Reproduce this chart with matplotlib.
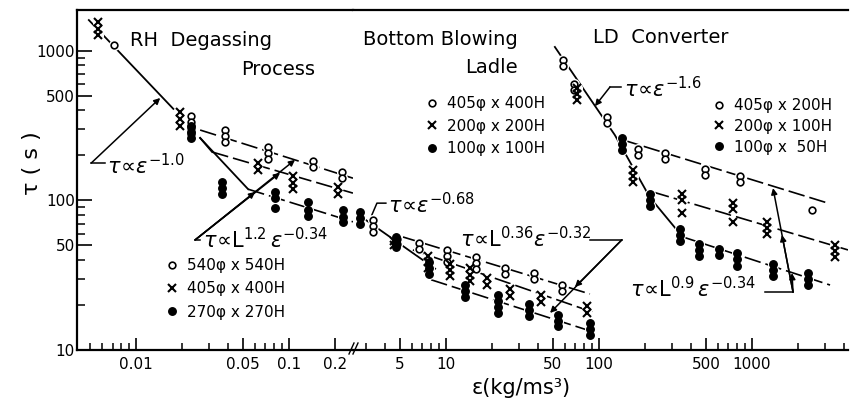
import numpy as np
import matplotlib.pyplot as plt
from matplotlib.lines import Line2D
from matplotlib.ticker import FixedLocator, FixedFormatter, NullFormatter

plt.rcParams['font.family'] = ['DejaVu Sans']
plt.rcParams['mathtext.fontset'] = 'dejavusans'

# RH degassing process  (eps in kg/ms3, tau in s)
rh_o_eps = [0.0072, 0.023, 0.038, 0.073, 0.143, 0.222]
rh_o_tau = [[1100], [367, 335, 305, 279], [296, 270, 246], [228, 208, 190], [184, 167], [155, 141]]
rh_x_eps = [0.0056, 0.0194, 0.0626, 0.106, 0.209]
rh_x_tau = [[1570, 1410, 1270], [390, 350, 315], [178, 160], [146, 131, 119], [123, 110]]
rh_d_eps = [0.023, 0.0365, 0.081, 0.133, 0.225]
rh_d_tau = [[315, 286, 261], [133, 121, 110], [114, 104, 89], [97, 87, 79], [86, 78, 72]]
rh_labels = ['540φ x 540H', '405φ x 400H', '270φ x 270H']

# bottom blowing ladle
bl_o_eps = [3.33, 4.8, 6.67, 10.15, 15.7, 24.3, 37.6, 57.3]
bl_o_tau = [[74, 67.5, 61.5], [55, 51], [52, 47.5], [46.7, 42.6, 38.8], [41.9, 38.2, 34.8],
            [35.3, 32.2], [32.8, 29.8], [27.3, 24.9]]
bl_x_eps = [4.6, 7.6, 10.6, 14.4, 18.5, 26.2, 41.8, 83.5]
bl_x_tau = [[54, 50], [42.6, 38.8, 35.3], [37.6, 34.3, 31.2], [35.3, 31.8, 28.9], [30.3, 27.3],
            [25.6, 23.0], [23.3, 21.0], [19.7, 17.7]]
bl_d_eps = [2.74, 4.7, 7.8, 13.3, 21.9, 34.8, 54, 87.3]
bl_d_tau = [[84, 76, 70], [57, 53, 49], [39, 35.5, 32], [27.3, 24.9, 22.6], [23.3, 21.2, 19.4, 17.7],
            [20.3, 18.5, 16.9], [17.2, 15.6, 14.5], [15.2, 13.8, 12.6]]
bl_labels = ['405φ x 400H', '200φ x 200H', '100φ x 100H']

# LD converter
ld_o_eps = [58.2, 69, 113, 180, 270, 493, 836, 2466]
ld_o_tau = [[870, 795], [600, 550], [363, 330], [221, 202], [208, 190], [162, 148], [145, 133], [86]]
ld_x_eps = [72, 167, 348, 752, 1253, 3484]
ld_x_tau = [[567, 516, 470], [160, 146, 133], [110, 101, 82], [96, 88, 72], [72, 65.5, 59.6],
            [50.4, 45.9, 41.9]]
ld_d_eps = [141, 215, 338, 450, 609, 798, 1372, 2322]
ld_d_tau = [[262, 239, 218], [110, 101, 92], [64.4, 58.6, 53.4], [51, 46.5, 42.6], [47.5, 43.2],
            [44.6, 40.6, 36.5], [37.6, 34.3, 31.2], [32.8, 29.8, 27.3]]
ld_labels = ['405φ x 200H', '200φ x 100H', '100φ x  50H']

# fitted lines (eps, tau); steep parts solid, flat parts dashed
rh_steep = ([0.0049, 0.0175], [1610, 410])
rh_bend_x = ([0.0262, 0.0314], [262, 211])
rh_bend_d = ([0.0262, 0.054], [262, 119])
rh_fit_o = ([0.0262, 0.262], [296, 141])
rh_fit_x = ([0.0314, 0.262], [211, 112])
rh_fit_d = ([0.054, 0.262], [119, 72])
bl_steep = ([2.6, 8.5], [82, 35])
bl_fit_o = ([5.24, 87.3], [57, 23.7])
bl_fit_x = ([6.08, 91.4], [46.7, 17.9])
bl_fit_d = ([8.0, 92], [29.5, 13.2])
ld_steep = ([51.5, 127, 215, 338], [1064, 274, 105, 60])
ld_fit_o = ([143.5, 3140], [254, 96])
ld_fit_x = ([225, 4240], [114, 46.7])
ld_fit_d = ([354, 3236], [57, 27.2])


def expand(eps, tau):
    xs = [e for e, ts in zip(eps, tau) for _ in ts]
    ys = [t for ts in tau for t in ts]
    return xs, ys


W, H = 852, 399
fig = plt.figure(figsize=(W / 100, H / 100), dpi=100)


def box(x0, x1):
    return [x0 / W, 1 - 350 / H, (x1 - x0) / W, 340 / H]


ax1 = fig.add_axes(box(77, 353))
ax2 = fig.add_axes(box(353, 848))

for ax in (ax1, ax2):
    ax.set_xscale('log')
    ax.set_yscale('log')
    ax.set_ylim(10, 1880)
    for s in ax.spines.values():
        s.set_linewidth(1.6)
    ax.spines['right'].set_visible(False)
    ax.tick_params(axis='x', which='major', direction='in', length=9, width=1.2,
                   labelsize=11, pad=5, top=False)
    ax.tick_params(axis='x', which='minor', direction='in', length=5, width=1.1, top=False)
    ax.xaxis.set_minor_formatter(NullFormatter())
    ax.yaxis.set_minor_formatter(NullFormatter())

ax2.spines['left'].set_visible(False)
ax1.set_xlim(0.0041, 0.262)
ax2.set_xlim(2.47, 4240)

ax1.xaxis.set_major_locator(FixedLocator([0.01, 0.05, 0.1, 0.2]))
ax1.xaxis.set_major_formatter(FixedFormatter(['0.01', '0.05', '0.1', '0.2']))
ax1.xaxis.set_minor_locator(FixedLocator([0.005, 0.006, 0.007, 0.008, 0.009, 0.02, 0.03,
                                          0.04, 0.06, 0.07, 0.08, 0.09]))
ax2.xaxis.set_major_locator(FixedLocator([5, 10, 50, 100, 500, 1000]))
ax2.xaxis.set_major_formatter(FixedFormatter(['5', '10', '50', '100', '500', '1000']))
ax2.xaxis.set_minor_locator(FixedLocator([3, 4, 6, 7, 8, 9, 20, 30, 40, 60, 70, 80, 90,
                                          200, 300, 400, 600, 700, 800, 900, 2000, 3000, 4000]))

ax1.yaxis.set_major_locator(FixedLocator([10, 50, 100, 500, 1000]))
ax1.yaxis.set_major_formatter(FixedFormatter(['10', '50', '100', '500', '1000']))
ax1.yaxis.set_minor_locator(FixedLocator([20, 30, 40, 60, 70, 80, 90, 200, 300, 400,
                                          600, 700, 800, 900]))
ax1.tick_params(axis='y', which='major', direction='in', length=11, width=1.2,
                labelsize=11, pad=1.5, right=False)
ax1.tick_params(axis='y', which='minor', direction='in', length=6, width=1.1, right=False)
ax2.tick_params(axis='y', which='both', left=False, right=False, labelleft=False)
ax2.yaxis.set_major_locator(FixedLocator([]))
ax2.yaxis.set_minor_locator(FixedLocator([]))

halo = dict(ls='none', marker='o', ms=8, mfc='white', mec='white', mew=0, zorder=3)
styles = [dict(ls='none', marker='o', ms=4.8, mfc='white', mec='black', mew=1.2, zorder=4),
          dict(ls='none', marker='x', ms=5.2, mec='black', mew=1.5, zorder=4),
          dict(ls='none', marker='o', ms=5.4, mfc='black', mec='black', zorder=4)]
steep = dict(color='black', lw=1.3, zorder=2)
shallow = dict(color='black', lw=1.2, zorder=2, dashes=(10, 3))
arrow = dict(arrowstyle='-|>', color='black', lw=1.1, mutation_scale=9, shrinkA=0, shrinkB=0)


def draw(ax, groups, steep_lines, fits):
    handles = []
    for (eps, tau), st in zip(groups, styles):
        xs, ys = expand(eps, tau)
        ax.plot(xs, ys, **halo)
        h, = ax.plot(xs, ys, **st)
        handles.append(h)
    for s in steep_lines:
        ax.plot(*s, **steep)
    for f in fits:
        ax.plot(*f, **shallow)
    return handles


h_rh = draw(ax1, [(rh_o_eps, rh_o_tau), (rh_x_eps, rh_x_tau), (rh_d_eps, rh_d_tau)],
            [rh_steep, rh_bend_x, rh_bend_d], [rh_fit_o, rh_fit_x, rh_fit_d])
h_bl = draw(ax2, [(bl_o_eps, bl_o_tau), (bl_x_eps, bl_x_tau), (bl_d_eps, bl_d_tau)],
            [bl_steep], [bl_fit_o, bl_fit_x, bl_fit_d])
h_ld = draw(ax2, [(ld_o_eps, ld_o_tau), (ld_x_eps, ld_x_tau), (ld_d_eps, ld_d_tau)],
            [ld_steep], [ld_fit_o, ld_fit_x, ld_fit_d])

leg_kw = dict(frameon=False, borderpad=0, borderaxespad=0, handlelength=0.8,
              handletextpad=0.6, fontsize=11, loc='upper left', bbox_transform=fig.transFigure)
ax1.legend(h_rh, rh_labels, bbox_to_anchor=(166 / W, 1 - 258 / H), labelspacing=0.55, **leg_kw)
leg_bl = ax2.legend(h_bl, bl_labels, bbox_to_anchor=(426 / W, 1 - 96 / H), labelspacing=0.5, **leg_kw)
ax2.add_artist(leg_bl)
ax2.legend(h_ld, ld_labels, bbox_to_anchor=(713 / W, 1 - 98 / H), labelspacing=0.38, **leg_kw)

# annotations
fs = 15
ax1.plot([0.00508, 0.00626], [178, 178], color='black', lw=1.1)
ax1.annotate('', xy=(0.01436, 485), xytext=(0.00508, 178), arrowprops=arrow)
ax1.text(0.00646, 150, r'$\tau\!\propto\!\varepsilon^{-1.0}$', fontsize=fs, va='baseline')

ax1.plot([0.0243, 0.0262], [54.5, 54.5], color='black', lw=1.1)
for tip in [(0.06, 114), (0.0873, 153), (0.1094, 187)]:
    ax1.annotate('', xy=tip, xytext=(0.0243, 54.5), arrowprops=arrow)
ax1.text(0.0274, 48, r'$\tau\!\propto\!\mathrm{L}^{1.2}\,\varepsilon^{-0.34}$', fontsize=fs,
         va='baseline', clip_on=False)

ax2.plot([3.28, 3.54, 4.05], [80, 96, 96], color='black', lw=1.1)
ax2.text(4.18, 82.4, r'$\tau\!\propto\!\varepsilon^{-0.68}$', fontsize=fs, va='baseline')

ax2.plot([87.3, 141], [54.5, 54.5], color='black', lw=1.1)
for tip in [(69.7, 26.4), (47.9, 17.7)]:
    ax2.annotate('', xy=tip, xytext=(141, 54.5), arrowprops=arrow)
ax2.text(12.35, 48.9, r'$\tau\!\propto\!\mathrm{L}^{0.36}\varepsilon^{-0.32}$', fontsize=fs,
         va='baseline')

ax2.plot([118, 140], [574, 574], color='black', lw=1.1)
ax2.annotate('', xy=(94.2, 428), xytext=(118, 574), arrowprops=arrow)
ax2.text(146, 492, r'$\tau\!\propto\!\varepsilon^{-1.6}$', fontsize=fs, va='baseline')

ax2.plot([1216, 1854], [24.4, 24.4], color='black', lw=1.1)
for tip in [(1372, 121), (1570, 58.8), (1825, 32.7)]:
    ax2.annotate('', xy=tip, xytext=(1854, 24.4), arrowprops=arrow)
ax2.text(160, 22.6, r'$\tau\!\propto\!\mathrm{L}^{0.9}\,\varepsilon^{-0.34}$', fontsize=fs,
         va='baseline')

# titles
tfs = 14
fig.text(130 / W, 1 - 46 / H, 'RH  Degassing', fontsize=tfs, va='baseline')
fig.text(315 / W, 1 - 75 / H, 'Process', fontsize=tfs, va='baseline', ha='right')
fig.text(518 / W, 1 - 45 / H, 'Bottom Blowing', fontsize=tfs, va='baseline', ha='right')
fig.text(518 / W, 1 - 73 / H, 'Ladle', fontsize=tfs, va='baseline', ha='right')
fig.text(593 / W, 1 - 43 / H, 'LD  Converter', fontsize=tfs, va='baseline')

fig.text(32 / W, 1 - 163 / H, 'τ ( s )', rotation=90, fontsize=16, ha='center', va='center')
fig.text(521 / W, 1 - 388 / H, 'ε(kg/ms³)', fontsize=15, ha='center', va='center')

# axis break mark
for dx in (0, 4):
    fig.add_artist(Line2D([(349 + dx) / W, (354 + dx) / W], [1 - 354 / H, 1 - 343 / H],
                          transform=fig.transFigure, color='black', lw=1.0))

fig.savefig('out.png', dpi=100)
